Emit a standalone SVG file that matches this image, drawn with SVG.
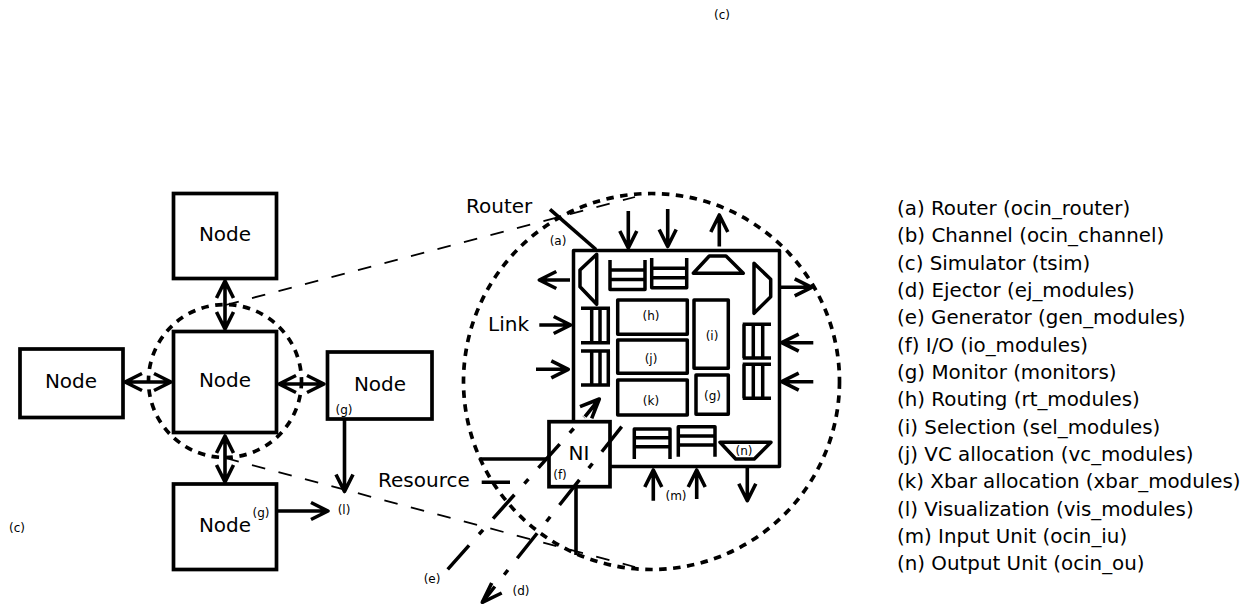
<svg xmlns="http://www.w3.org/2000/svg" width="1248" height="606" viewBox="0 0 1248 606">
<style>
text{font-family:"DejaVu Sans",sans-serif;fill:#000}
.s{font-size:12px;text-anchor:middle}
.m{font-size:20px;text-anchor:middle}
.t{font-size:20px}
.l{font-size:19.85px}
.b{fill:#fff;stroke:#000;stroke-width:3.7}
.f{fill:none;stroke:#000;stroke-width:3.5;stroke-linejoin:round}
.c{fill:none;stroke:#000;stroke-width:3.6;stroke-linejoin:round}
.dc{fill:none;stroke:#000;stroke-width:3.7;stroke-dasharray:7.500 6.500}
.ld{fill:none;stroke:#000;stroke-width:1.8;stroke-dasharray:13.7 13.7}
.dd{fill:none;stroke:#000;stroke-width:3.5;stroke-dasharray:32 15 6 15}
</style>
<rect width="1248" height="606" fill="#fff"/>
<g id="zoom-guides">
<circle class="dc" cx="225" cy="381" r="76.5"/>
<circle class="dc" cx="651.5" cy="381.5" r="188"/>
<path class="ld" d="M225.5 305L635 197"/>
<path class="ld" d="M225.5 458L635 567"/>
</g>
<g id="node-top"><rect class="b" x="173.5" y="193.5" width="103" height="85"/><text class="m" x="225" y="241">Node</text></g>
<g id="node-center"><rect class="b" x="173.5" y="331.5" width="103" height="101"/><text class="m" x="225" y="387">Node</text></g>
<g id="node-left"><rect class="b" x="20" y="349" width="103" height="68.5"/><text class="m" x="71" y="388">Node</text></g>
<g id="node-right"><rect class="b" x="327.5" y="352" width="104.5" height="67"/><text class="m" x="380" y="391">Node</text><text class="s" x="344" y="414">(g)</text></g>
<g id="node-bottom"><rect class="b" x="173.5" y="484" width="103" height="85.5"/><text class="m" x="225" y="532">Node</text><text class="s" x="261" y="517">(g)</text></g>
<g id="connectors">
<path class="c" d="M225 281V329M216.500 298L225 281L233.500 298M216.500 312L225 329L233.500 312"/>
<path class="c" d="M225 436V482M216.500 453L225 436L233.500 453M216.500 465L225 482L233.500 465"/>
<path class="c" d="M125 382H171M142 373.500L125 382L142 390.500M154 373.500L171 382L154 390.500"/>
<path class="c" d="M279 384H324M296 375.500L279 384L296 392.500M307 375.500L324 384L307 392.500"/>
<path class="c" d="M344.500 419V491.500M336 474.500L344.500 491.500L353 474.500"/>
<path class="c" d="M278 511H328M311 502.500L328 511L311 519.500"/>
</g>
<g id="router">
<rect class="f" x="573.500" y="250.500" width="206" height="216"/>
<path class="c" d="M550 209.300L596 249.500"/>
<g id="router-arrows">
<path class="c" d="M628.300 211V248M619.800 231L628.300 248L636.800 231"/>
<path class="c" d="M667.700 209V246.500M659.200 229.500L667.700 246.500L676.200 229.500"/>
<path class="c" d="M719.300 246.500V215M710.800 232L719.300 215L727.800 232"/>
<path class="c" d="M570 280H539.300M556.300 271.500L539.300 280L556.300 288.500"/>
<path class="c" d="M780 287.300H811.700M794.700 278.800L811.700 287.300L794.700 295.800"/>
<path class="c" d="M539.300 325H570.700M553.700 316.500L570.700 325L553.700 333.500"/>
<path class="c" d="M536 369.300H568.300M551.300 360.800L568.300 369.300L551.300 377.800"/>
<path class="c" d="M813.300 342.700H781.700M798.700 334.200L781.700 342.700L798.700 351.200"/>
<path class="c" d="M813.300 381.700H781.700M798.700 373.200L781.700 381.700L798.700 390.200"/>
<path class="c" d="M653.300 500.700V470M644.800 487L653.300 470L661.800 487"/>
<path class="c" d="M696.700 499V470M688.200 487L696.700 470L705.200 487"/>
<path class="c" d="M747.300 468V500.700M738.800 483.700L747.300 500.700L755.800 483.700"/>
</g>
<g id="units">
<path class="f" d="M596.700 254.300L580 270V286.700L596.700 304.300Z"/>
<path class="f" d="M754 263.300L770.700 279.300V296.700L754 313.300Z"/>
<path class="f" d="M693.300 273.300L709.300 256H726L743.300 273.300Z"/>
<path class="f" d="M610 260V289.500H645V260M610 270H645M610 279.500H645"/>
<path class="f" d="M651.700 258V287.700H686.700V258M651.700 268.300H686.700M651.700 277.700H686.700"/>
<path class="f" d="M581 308.300H610M581 342.700H610M591.700 308.300V342.700M600 308.300V342.700M608.300 308.300V342.700"/>
<path class="f" d="M581 351H610M581 385H610M591.700 351V385M600 351V385M608.300 351V385"/>
<path class="f" d="M742.700 324.300H771M742.700 358H771M744 324.300V358M753.300 324.300V358M762.700 324.300V358"/>
<path class="f" d="M742.700 364.300H771M742.700 398.300H771M744 364.300V398.300M753.300 364.300V398.300M762.700 364.300V398.300"/>
<path class="f" d="M634.300 459V429H670V459M634.300 437.700H670M634.300 446.700H670"/>
<path class="f" d="M678.300 456.700V426.700H715V456.700M678.300 436H715M678.300 445H715"/>
<path class="f" d="M720 442.300H771L754.300 459H735.700Z"/>
<rect class="f" x="617.700" y="300" width="69.600" height="34.300"/>
<rect class="f" x="617.700" y="340" width="69.600" height="33.300"/>
<rect class="f" x="617.700" y="380" width="69.600" height="35"/>
<rect class="f" x="694" y="300" width="34.300" height="68.300"/>
<rect class="f" x="696" y="375" width="32.300" height="39.300"/>
<text class="s" x="651" y="320">(h)</text><text class="s" x="712" y="340">(i)</text>
<text class="s" x="651" y="363">(j)</text><text class="s" x="651" y="405">(k)</text>
<text class="s" x="712.500" y="399.500">(g)</text><text class="s" x="744" y="454.500">(n)</text>
</g>
</g>
<g id="ni"><rect class="b" x="549" y="421.700" width="61" height="65"/><text class="m" x="579" y="460">NI</text><text class="s" x="560" y="479">(f)</text></g>
<g id="ni-connectors">
<path class="c" d="M479.300 459H547M481.700 482.300H510M576 487V555"/>
<path class="dd" d="M447.700 569.300L584 417"/>
<path class="c" d="M585 416.700L599.300 399M580 406.700L599.300 399L591.700 418.300"/>
<path class="dd" d="M621.700 426.700L482.300 602.300"/>
<path class="c" d="M491.700 583L482.300 602.300L501.700 593"/>
</g>
<g id="labels">
<text class="t" x="466" y="213">Router</text>
<text class="t" x="488" y="331">Link</text>
<text class="t" x="378" y="487">Resource</text>
<text class="s" x="558" y="245">(a)</text>
<text class="s" x="722" y="19">(c)</text>
<text class="s" x="17" y="532">(c)</text>
<text class="s" x="344" y="514">(l)</text>
<text class="s" x="432" y="583">(e)</text>
<text class="s" x="521" y="595">(d)</text>
<text class="s" x="676" y="500">(m)</text>
</g>
<g id="legend">
<text class="l" x="897" y="215">(a) Router (ocin_router)</text>
<text class="l" x="897" y="242">(b) Channel (ocin_channel)</text>
<text class="l" x="897" y="270">(c) Simulator (tsim)</text>
<text class="l" x="897" y="297">(d) Ejector (ej_modules)</text>
<text class="l" x="897" y="324">(e) Generator (gen_modules)</text>
<text class="l" x="897" y="352">(f) I/O (io_modules)</text>
<text class="l" x="897" y="379">(g) Monitor (monitors)</text>
<text class="l" x="897" y="406">(h) Routing (rt_modules)</text>
<text class="l" x="897" y="434">(i) Selection (sel_modules)</text>
<text class="l" x="897" y="461">(j) VC allocation (vc_modules)</text>
<text class="l" x="897" y="488">(k) Xbar allocation (xbar_modules)</text>
<text class="l" x="897" y="516">(l) Visualization (vis_modules)</text>
<text class="l" x="897" y="543">(m) Input Unit (ocin_iu)</text>
<text class="l" x="897" y="570">(n) Output Unit (ocin_ou)</text>
</g>
</svg>
